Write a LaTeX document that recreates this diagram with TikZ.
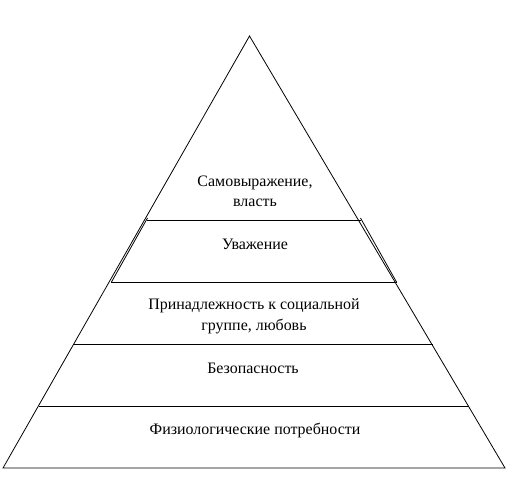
\documentclass[tikz,border=0pt]{standalone}
\usepackage{fontspec}
\setmainfont{Liberation Serif}
\begin{document}
\begin{tikzpicture}[x=1bp,y=-1bp,
  edge/.style={line width=0.8bp,black},
  lbl/.style={font=\fontsize{16}{19}\selectfont,align=center,inner sep=0pt,anchor=base}]
\useasboundingbox (0,0) rectangle (509,502);
\coordinate (apex) at (249.5,36);
\coordinate (bl) at (3,468);
\coordinate (br) at (505,468);
\draw[edge] (bl) -- (apex) -- (br) -- cycle;
\draw[edge] (147,220) -- (361,220);
\draw[edge] (111,282) -- (397,282);
\draw[edge] (74,344) -- (433,344);
\draw[edge] (39,406) -- (469,406);
% doubled side segments
\draw[edge] (147.5,218) -- (111.5,282);
\draw[edge] (360.5,218) -- (396.5,282);
\node[lbl] (t1) at (255,187) {Самовыражение,};
\node[lbl] (t1b) at (255,206) {власть};
\node[lbl] (t2) at (255,249) {Уважение};
\node[lbl] (t3) at (254,309) {Принадлежность к социальной};
\node[lbl] (t3b) at (254,330) {группе, любовь};
\node[lbl] (t4) at (253,373) {Безопасность};
\node[lbl] (t5) at (255,434) {Физиологические потребности};
\end{tikzpicture}
\end{document}
